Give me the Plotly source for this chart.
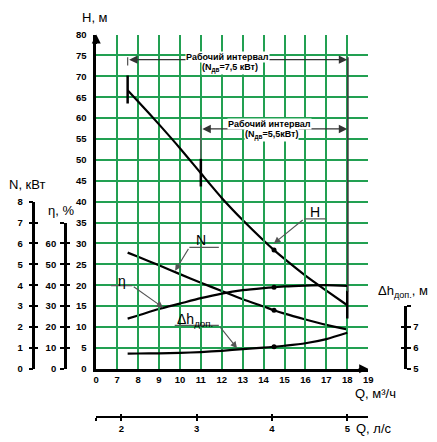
import plotly.graph_objects as go

# ---------------- data ----------------
q_m3h = [7.5, 8, 9, 10, 11, 12, 13, 14, 14.5, 15, 16, 17, 18]
head_m = [66.7, 64.0, 58.5, 52.8, 46.8, 40.9, 35.6, 30.7, 28.4, 26.3, 22.3, 18.7, 15.2]
power_kw = [5.56, 5.36, 4.95, 4.53, 4.12, 3.72, 3.33, 2.98, 2.80, 2.64, 2.36, 2.10, 1.88]
eff_pct = [24.0, 25.5, 28.6, 31.2, 33.8, 36.0, 37.6, 38.6, 39.0, 39.4, 39.8, 40.0, 39.7]
npsh_m = [5.72, 5.73, 5.74, 5.76, 5.80, 5.86, 5.94, 6.01, 6.05, 6.10, 6.22, 6.42, 6.72]
q_mark = 14.5

x_tickvals = list(range(6, 20))
x_ticktext = ["0"] + [str(v) for v in range(7, 20)]
h_tickvals = list(range(0, 85, 5))
n_tickvals = list(range(0, 9))
eta_tickvals = list(range(0, 80, 10))
eta_ticktext = [str(v) for v in range(0, 70, 10)] + [""]
npsh_tickvals = [5, 6, 7, 8]
npsh_ticktext = ["5", "6", "7", ""]
qls_tickvals = [6 / 3.6, 2, 3, 4, 5]
qls_ticktext = ["", "2", "3", "4", "5"]

interval_75 = (7.5, 18)
interval_55 = (11, 18)

# ---------------- geometry ----------------
W, HH = 437, 442
XD = [95 / W, 372 / W]
Y0 = 70 / HH
Y1 = (HH - 29.3) / HH


def hfrac(h):
    return Y0 + (Y1 - Y0) * h / 80.0


def px(x, y):
    return x / W, 1 - y / HH


GREEN = "#22a052"
FONT = "Liberation Sans"
tickfont = dict(family=FONT, size=9.5, color="black", weight="bold")

fig = go.Figure()

line = dict(color="black", width=2.2, shape="spline", smoothing=0.7)
fig.add_trace(go.Scatter(x=q_m3h, y=head_m, mode="lines", line=line, xaxis="x", yaxis="y"))
fig.add_trace(go.Scatter(x=q_m3h, y=power_kw, mode="lines", line=line, xaxis="x", yaxis="y2"))
fig.add_trace(go.Scatter(x=q_m3h, y=eff_pct, mode="lines", line=line, xaxis="x", yaxis="y3"))
fig.add_trace(go.Scatter(x=q_m3h, y=npsh_m, mode="lines", line=line, xaxis="x", yaxis="y4"))

i = q_m3h.index(q_mark)
mk = dict(color="black", size=5)
for ser, ya in [(head_m, "y"), (power_kw, "y2"), (eff_pct, "y3"), (npsh_m, "y4")]:
    fig.add_trace(go.Scatter(x=[q_mark], y=[ser[i]], mode="markers", marker=mk, xaxis="x", yaxis=ya))

# dummy traces so that twin axes are drawn
for xa, ya, yv, xv in [("x", "y5", 1, 12), ("x", "y6", 1, 12), ("x", "y7", 5.5, 12),
                       ("x2", "y", 1, 3), ("x3", "y", 1, 3)]:
    fig.add_trace(go.Scatter(x=[xv], y=[yv], mode="markers", marker=dict(opacity=0),
                             xaxis=xa, yaxis=ya, hoverinfo="skip"))

common_free = dict(showgrid=False, zeroline=False, showline=True, linecolor="black",
                   linewidth=2.5, ticks="outside", ticklen=4, tickwidth=2, tickcolor="black",
                   tickfont=tickfont, anchor="free", fixedrange=True)
twin_free = dict(showgrid=False, zeroline=False, showline=False, ticks="inside", ticklen=4,
                 tickwidth=2, tickcolor="black", showticklabels=False, anchor="free")

fig.update_layout(
    width=W, height=HH, margin=dict(l=0, r=0, t=0, b=0),
    paper_bgcolor="white", plot_bgcolor="rgba(0,0,0,0)", showlegend=False,
    xaxis=dict(domain=XD, range=[6, 19], tickvals=x_tickvals, ticktext=x_ticktext,
               showgrid=True, gridcolor=GREEN, gridwidth=1.6, zeroline=False,
               showline=True, linecolor="black", linewidth=2.5, ticks="",
               tickfont=tickfont, anchor="y"),
    yaxis=dict(domain=[Y0, Y1], range=[0, 80], tickvals=h_tickvals,
               showgrid=True, gridcolor=GREEN, gridwidth=1.6, zeroline=False,
               showline=True, linecolor="black", linewidth=2.5, ticks="outside",
               ticklen=5, tickcolor="rgba(0,0,0,0)", tickfont=tickfont, anchor="x"),
    yaxis2=dict(domain=[Y0, hfrac(40)], range=[0, 8], tickvals=n_tickvals,
                position=31 / W, side="left", ticklabelstandoff=4, **common_free),
    yaxis3=dict(domain=[Y0, hfrac(35)], range=[0, 70], tickvals=eta_tickvals,
                ticktext=eta_ticktext, position=63 / W, side="left", ticklabelstandoff=2,
                **common_free),
    yaxis4=dict(domain=[Y0, hfrac(15)], range=[5, 8], tickvals=npsh_tickvals,
                ticktext=npsh_ticktext, position=410 / W, side="right", **common_free),
    yaxis5=dict(overlaying="y2", range=[0, 8], tickvals=n_tickvals, position=31 / W,
                side="left", **twin_free),
    yaxis6=dict(overlaying="y3", range=[0, 70], tickvals=eta_tickvals, position=63 / W,
                side="left", **twin_free),
    yaxis7=dict(overlaying="y4", range=[5, 8], tickvals=npsh_tickvals, position=410 / W,
                side="right", **twin_free),
    xaxis2=dict(overlaying="x", range=[6 / 3.6, 19 / 3.6], tickvals=qls_tickvals,
                ticktext=qls_ticktext, position=21 / HH, side="bottom",
                showgrid=False, zeroline=False, showline=True, linecolor="black",
                linewidth=2, ticks="outside", ticklen=3, tickwidth=1.5, tickcolor="black",
                tickfont=tickfont, anchor="free"),
    xaxis3=dict(overlaying="x", range=[6 / 3.6, 19 / 3.6], tickvals=qls_tickvals,
                position=21 / HH, side="bottom", showgrid=False, zeroline=False,
                showline=False, ticks="inside", ticklen=3, tickwidth=1.5, tickcolor="black",
                showticklabels=False, anchor="free"),
)

shapes = []
GRAY = "#5a5a5a"
# working interval boundary marks on the H curve
for qv in (interval_75[0], interval_55[0], interval_75[1]):
    hv = head_m[q_m3h.index(qv)]
    shapes.append(dict(type="line", xref="x", yref="y", x0=qv, x1=qv, y0=hv - 3.2, y1=hv + 3.5,
                       line=dict(color="black", width=2.5)))
# extension lines to the interval arrows
shapes.append(dict(type="line", xref="x", yref="y", x0=7.5, x1=7.5, y0=72.6, y1=74.6,
                   line=dict(color=GRAY, width=1.3)))
shapes.append(dict(type="line", xref="x", yref="y", x0=11, x1=11, y0=50.2, y1=58.3,
                   line=dict(color=GRAY, width=1.3)))
shapes.append(dict(type="line", xref="x", yref="y", x0=18.03, x1=18.03, y0=18.5, y1=74.6,
                   line=dict(color="#3a3a3a", width=1.6)))
# label leader lines
for (xa, xb, yy) in [(15.94, 16.99, 35.9), (10.45, 11.86, 29.05), (6.70, 7.72, 19.9),
                     (9.75, 11.86, 10.4)]:
    shapes.append(dict(type="line", xref="x", yref="y", x0=xa, x1=xb, y0=yy, y1=yy,
                       line=dict(color=GRAY, width=1.2)))
fig.update_layout(shapes=shapes)

ann = []
# interval arrows
for (qa, qb), hy in [(interval_75, 74.0), (interval_55, 57.4)]:
    ann.append(dict(x=qb, y=hy, ax=qa, ay=hy, xref="x", yref="y", axref="x", ayref="y",
                    text="", showarrow=True, arrowside="end+start", arrowhead=2,
                    arrowsize=1.3, arrowwidth=1.3, arrowcolor="#333"))
itf = dict(family=FONT, size=9, color="black", weight="bold")
ann.append(dict(x=12.28, y=74.75, xref="x", yref="y", text="Рабочий интервал", showarrow=False,
                font=itf, bgcolor="white", borderpad=0))
ann.append(dict(x=12.38, y=71.9, xref="x", yref="y", text="(N<sub>дв</sub>=7,5 кВт)",
                showarrow=False, font=itf, bgcolor="white", borderpad=0))
ann.append(dict(x=14.28, y=58.6, xref="x", yref="y", text="Рабочий интервал", showarrow=False,
                font=itf, bgcolor="white", borderpad=0))
ann.append(dict(x=14.39, y=55.9, xref="x", yref="y", text="(N<sub>дв</sub>=5,5кВт)",
                showarrow=False, font=itf, bgcolor="white", borderpad=0))

# curve label pointers
for tx, ty, hx, hy in [(15.94, 35.9, 14.49, 30.0), (10.45, 29.05, 9.77, 23.45),
                       (7.72, 19.9, 9.2, 14.63), (11.86, 10.4, 12.73, 4.9)]:
    ann.append(dict(x=hx, y=hy, ax=tx, ay=ty, xref="x", yref="y", axref="x", ayref="y",
                    text="", showarrow=True, arrowhead=2, arrowsize=1.2, arrowwidth=1.1,
                    arrowcolor="#555"))
lf = dict(family=FONT, size=14, color="black")
for txt, qx, hy in [("H", 16.45, 37.45), ("N", 11.02, 30.9), ("η", 7.22, 21.0),
                    ("Δh<sub>доп.</sub>", 10.73, 11.7)]:
    ann.append(dict(x=qx, y=hy, xref="x", yref="y", text=txt, showarrow=False, font=lf))

# axis arrowheads
ann.append(dict(x=19, y=0, xref="x", yref="y", ax=-11, ay=0, text="", showarrow=True,
                arrowhead=2, arrowsize=1.2, arrowwidth=1.5, arrowcolor="black"))
ann.append(dict(x=6, y=80, xref="x", yref="y", ax=0, ay=11, text="", showarrow=True,
                arrowhead=2, arrowsize=1.2, arrowwidth=1.5, arrowcolor="black"))

# axis titles
tf = dict(family=FONT, size=13, color="black")
for txt, x, y in [("H, м", 94, 12), ("N, кВт", 25, 183), ("η, %", 59, 210),
                  ("Q, м³/ч", 379, 397), ("Q, л/с", 378, 433),
                  ("Δh<sub>доп.</sub>, м", 407, 293)]:
    xp, yp = px(x, y)
    ann.append(dict(x=xp, y=yp, xref="paper", yref="paper", text=txt, showarrow=False,
                    font=tf, xanchor="center", yanchor="middle"))

fig.update_layout(annotations=ann)
fig.write_html("out.html")
